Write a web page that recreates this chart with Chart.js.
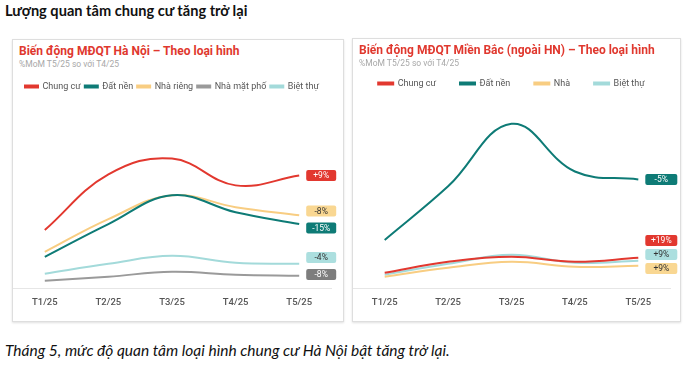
<!DOCTYPE html>
<html>
<head>
<meta charset="utf-8">
<script src="https://cdn.jsdelivr.net/npm/chart.js@4.4.0/dist/chart.umd.min.js"></script>
<style>
  body { margin: 0; background: #fff; width: 700px; height: 368px; position: relative; overflow: hidden; }
  .page-title { position: absolute; left: 5px; top: 2px; font: bold 14.6px Lato, sans-serif; color: #111; }
  .caption { position: absolute; left: 5px; top: 341px; font: italic 15.5px Lato, sans-serif; color: #111; }
  .panel { position: absolute; border: 1px solid #dedede; box-shadow: 0 1px 2px rgba(0,0,0,0.12); background: #fff; }
  .panel .t { position: absolute; left: 6px; top: 4px; font: bold 12px Roboto, sans-serif; color: #e0382e; white-space: nowrap; z-index: 2; }
  .panel .s { position: absolute; left: 6px; top: 19px; font: 8.5px Roboto, sans-serif; color: #a8a8a8; white-space: nowrap; z-index: 2; }
  .panel canvas { position: absolute; left: 0; }
</style>
</head>
<body>
<div class="page-title">Lượng quan tâm chung cư tăng trở lại</div>

<div class="panel" style="left:12px; top:39px; width:330px; height:281px;">
  <div class="t">Biến động MĐQT Hà Nội – Theo loại hình</div>
  <div class="s">%MoM T5/25 so với T4/25</div>
  <canvas id="hn" width="330" height="243" style="top:38px;"></canvas>
</div>

<div class="panel" style="left:352px; top:38px; width:327px; height:282px;">
  <div class="t">Biến động MĐQT Miền Bắc (ngoài HN) – Theo loại hình</div>
  <div class="s">%MoM T5/25 so với T4/25</div>
  <canvas id="mb" width="327" height="266" style="top:16px;"></canvas>
</div>

<div class="caption">Tháng 5, mức độ quan tâm loại hình chung cư Hà Nội bật tăng trở lại.</div>

<script>
// months on the x axis
const months = ["T1/25", "T2/25", "T3/25", "T4/25", "T5/25"];

// Hà Nội - interest index
const hnChungCu  = [59, 115, 131, 104, 114];
const hnDatNen   = [32, 65, 94, 77, 65];
const hnNhaRieng = [37, 70, 94, 82, 74];
const hnMatPho   = [8, 12, 17, 14, 13];
const hnBietThu  = [15, 25, 33, 26, 25];
const hnBadges   = ["+9%", "-15%", "-8%", "-8%", "-4%"];

// Miền Bắc (ngoài HN)
const mbChungCu = [16, 27, 32, 27, 31];
const mbDatNen  = [49, 103, 166, 118, 110];
const mbNha     = [12, 21, 27, 22, 23];
const mbBietThu = [14, 25, 34, 26, 28];
const mbBadges  = ["+19%", "-5%", "+9%", "+9%"];

const RED = "#e2382f", TEAL = "#0e7b76", YELLOW = "#f8cd82", GRAY = "#9a9a9a", LBLUE = "#a3dada";
const badgeStyle = {
  [RED]: { bg: "#e2382f", fg: "#fff" },
  [TEAL]: { bg: "#0e7b76", fg: "#fff" },
  [YELLOW]: { bg: "#f9d792", fg: "#333" },
  [GRAY]: { bg: "#7d7d7d", fg: "#fff" },
  [LBLUE]: { bg: "#acdfdf", fg: "#333" }
};

// draws the value tags at the end of each line, spread so they don't overlap
const endBadges = {
  id: "endBadges",
  afterDatasetsDraw(chart, args, opts) {
    const { ctx, chartArea } = chart;
    const items = chart.data.datasets.map((ds, i) => {
      const pt = chart.getDatasetMeta(i).data[ds.data.length - 1];
      return { x: pt.x, y: pt.y, text: opts.texts[i], color: ds.borderColor };
    });
    items.sort((a, b) => a.y - b.y);
    const gap = opts.gap, h = 11;
    for (let k = 0; k < 30; k++) {
      for (let i = 1; i < items.length; i++) {
        const d = items[i].y - items[i - 1].y;
        if (d < gap) {
          const s = (gap - d) / 2;
          items[i - 1].y -= s;
          items[i].y += s;
        }
      }
      const maxY = chartArea.bottom - opts.bottomGap;
      for (let i = items.length - 1; i >= 0; i--) {
        const lim = i === items.length - 1 ? maxY : items[i + 1].y - gap;
        if (items[i].y > lim) items[i].y = lim;
      }
    }
    ctx.save();
    ctx.font = "8.5px Roboto, sans-serif";
    ctx.textAlign = "center";
    ctx.textBaseline = "middle";
    items.forEach(it => {
      const st = badgeStyle[it.color];
      const x = it.x + 7, y = it.y - h / 2;
      ctx.fillStyle = st.bg;
      ctx.beginPath();
      ctx.roundRect(x, y, opts.width, h, 2);
      ctx.fill();
      ctx.fillStyle = st.fg;
      ctx.fillText(it.text, x + opts.width / 2, it.y + 0.5);
    });
    ctx.restore();
  }
};

function line(label, data, color) {
  return {
    label, data,
    borderColor: color, backgroundColor: color,
    borderWidth: 2, pointRadius: 0, tension: 0.4, fill: false
  };
}

function makeChart(id, datasets, badges, legendPad, boxW, badgeWidth, gap, bottomGap, yMax, padRight) {
  return new Chart(document.getElementById(id), {
    type: "line",
    data: { labels: months, datasets },
    plugins: [endBadges],
    options: {
      responsive: false,
      animation: false,
      layout: { padding: { left: 0, right: padRight, top: 0, bottom: 5 } },
      plugins: {
        legend: {
          labels: {
            boxWidth: boxW, boxHeight: 2, padding: legendPad,
            color: "#555", font: { family: "Roboto", size: 9 }
          }
        },
        tooltip: { enabled: false },
        endBadges: { texts: badges, width: badgeWidth, gap, bottomGap }
      },
      scales: {
        x: {
          offset: true,
          grid: { display: false, drawTicks: false },
          border: { color: "#e6e6e6", width: 1 },
          ticks: { color: "#555", padding: 8, font: { family: "Roboto", size: 9.5, weight: "500" } }
        },
        y: { display: false, min: 0, max: yMax }
      }
    }
  });
}

makeChart("hn", [
  line("Chung cư", hnChungCu, RED),
  line("Đất nền", hnDatNen, TEAL),
  line("Nhà riêng", hnNhaRieng, YELLOW),
  line("Nhà mặt phố", hnMatPho, GRAY),
  line("Biệt thự", hnBietThu, LBLUE)
], hnBadges, 4, 13, 30, 17, 14, 189, 12);

makeChart("mb", [
  line("Chung cư", mbChungCu, RED),
  line("Đất nền", mbDatNen, TEAL),
  line("Nhà", mbNha, YELLOW),
  line("Biệt thự", mbBietThu, LBLUE)
], mbBadges, 24, 15, 32, 14, 20, 192, 10);
</script>
</body>
</html>
